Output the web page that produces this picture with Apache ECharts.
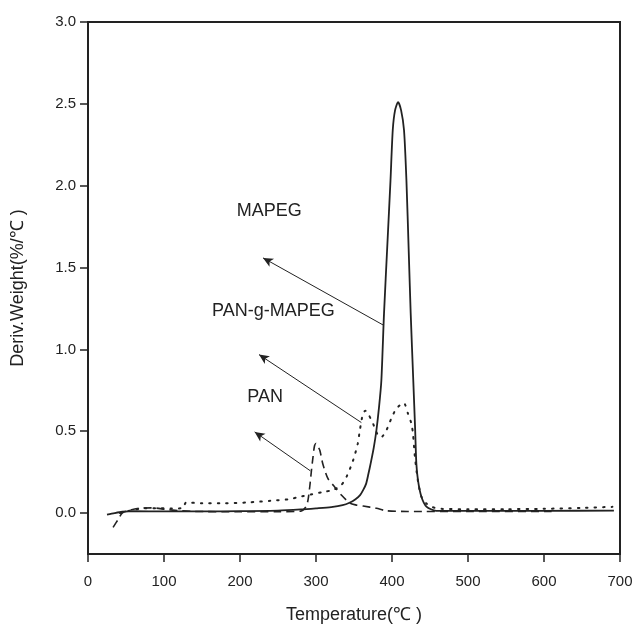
<!DOCTYPE html>
<html>
<head>
<meta charset="utf-8">
<script src="https://cdn.jsdelivr.net/npm/echarts@6/dist/echarts.min.js"></script>
<style>html,body{margin:0;padding:0;background:#fff}#c{width:636px;height:630px}</style>
</head>
<body>
<div id="c"></div>
<script>
// MAPEG (solid)
const mapeg = [[25,-0.01],[35,0.0],[45,0.008],[60,0.012],[100,0.01],[150,0.01],[200,0.012],[250,0.015],[280,0.022],[300,0.029],[320,0.037],[335,0.048],[344,0.063],[352,0.085],[358,0.11],[362,0.14],[366,0.18],[369,0.24],[372,0.305],[376,0.4],[379.5,0.506],[383,0.65],[386,0.81],[389.5,1.22],[394,1.65],[398,2.03],[401,2.34],[404,2.46],[408,2.51],[412,2.46],[415.8,2.34],[419,2.03],[422,1.6],[424.6,1.22],[428,0.81],[430.5,0.506],[432,0.305],[434.2,0.2],[438.7,0.1],[445.3,0.04],[458,0.014],[500,0.014],[600,0.014],[692,0.015]];
// PAN-g-MAPEG (dotted)
const panGMapeg = [[42,0.0],[55,0.015],[70,0.028],[90,0.03],[110,0.028],[125,0.03],[129,0.065],[150,0.06],[180,0.06],[210,0.065],[240,0.075],[265,0.085],[279,0.1],[295,0.115],[310,0.13],[322,0.14],[333,0.17],[340,0.22],[348.7,0.32],[355,0.425],[357.5,0.5],[361.8,0.608],[365,0.625],[368.4,0.608],[375,0.547],[381.6,0.475],[386,0.465],[392.6,0.506],[399,0.577],[405.8,0.638],[415.4,0.673],[421,0.608],[425.5,0.547],[427.6,0.486],[430,0.35],[434,0.2],[438.7,0.1],[445,0.06],[452,0.038],[465,0.026],[500,0.024],[550,0.024],[600,0.026],[650,0.032],[690,0.038]];
// PAN (dashed)
const pan = [[33,-0.087],[39.5,-0.04],[45,0.0],[55,0.018],[68,0.03],[85,0.032],[103,0.022],[120,0.015],[140,0.01],[200,0.008],[250,0.008],[280,0.012],[287,0.04],[289.5,0.08],[292,0.17],[294,0.26],[296,0.34],[298,0.41],[300,0.425],[302,0.41],[305,0.384],[309,0.30],[315.8,0.21],[324.6,0.16],[333.4,0.11],[344,0.063],[352,0.05],[362,0.043],[379.5,0.029],[392.6,0.014],[420,0.01],[500,0.01],[610,0.01]];

const xTicks = [0,100,200,300,400,500,600,700];
const yTicks = [0,0.5,1.0,1.5,2.0,2.5,3.0];

// annotation labels: [text, x, y]
const labelNames = ['MAPEG','PAN-g-MAPEG','PAN'];
const labelPos = [[238.4,1.848],[244,1.232],[233,0.707]];
// arrows: [tail, head]
const arrows = [
  [[389.5,1.146],[230.3,1.559]],
  [[359.7,0.553],[225,0.968]],
  [[292.6,0.258],[219.3,0.496]]
];

const FONT = 'Liberation Sans';
const INK = '#222';

const chart = echarts.init(document.getElementById('c'), null, {renderer:'canvas'});
chart.setOption({
  animation: false,
  backgroundColor: '#fff',
  textStyle: {fontFamily: FONT},
  grid: {left: 88, right: 16, top: 22, bottom: 76, show: true, borderColor: INK, borderWidth: 2, backgroundColor: 'transparent'},
  xAxis: {
    type: 'value', min: 0, max: 700, interval: 100,
    name: 'Temperature(℃ )', nameLocation: 'middle', nameGap: 52,
    nameTextStyle: {fontSize: 18, color: INK, fontFamily: FONT},
    axisLine: {show: true, onZero: false, lineStyle: {color: INK, width: 2}},
    axisTick: {show: true, inside: false, length: 8, lineStyle: {color: INK, width: 1.5}},
    axisLabel: {fontSize: 15, color: INK, margin: 20, fontFamily: FONT},
    splitLine: {show: false}
  },
  yAxis: {
    type: 'value', min: -0.25, max: 3.0,
    name: 'Deriv.Weight(%/℃ )', nameLocation: 'middle', nameGap: 61,
    nameTextStyle: {fontSize: 18, color: INK, fontFamily: FONT},
    axisLine: {show: true, onZero: false, lineStyle: {color: INK, width: 2}},
    axisTick: {show: true, inside: false, length: 8, customValues: yTicks, lineStyle: {color: INK, width: 1.5}},
    axisLabel: {fontSize: 15, color: INK, margin: 12, fontFamily: FONT, customValues: yTicks,
      formatter: v => v.toFixed(1)},
    splitLine: {show: false}
  },
  series: [
    {
      name: 'MAPEG', type: 'line', data: mapeg, showSymbol: false, smooth: 0.25,
      lineStyle: {color: INK, width: 1.8, type: 'solid'},
      markLine: {
        silent: true, symbol: ['none','arrow'], symbolSize: [7,10],
        label: {show: false},
        lineStyle: {color: INK, width: 1, type: 'solid'},
        data: arrows.map(a => [{coord: a[0]}, {coord: a[1]}])
      },
      markPoint: {
        silent: true, symbol: 'circle', symbolSize: 0,
        label: {show: true, position: 'inside', fontSize: 18, color: INK, fontFamily: FONT, formatter: p => p.name},
        data: labelNames.map((n,i) => ({name: n, coord: labelPos[i]}))
      },
      z: 3
    },
    {
      name: 'PAN-g-MAPEG', type: 'line', data: panGMapeg, showSymbol: false, smooth: 0.25,
      lineStyle: {color: INK, width: 2, type: [1.5,7], cap: 'round'}
    },
    {
      name: 'PAN', type: 'line', data: pan, showSymbol: false, smooth: 0.25,
      lineStyle: {color: INK, width: 1.6, type: [8,5]}
    }
  ]
});
</script>
</body>
</html>
